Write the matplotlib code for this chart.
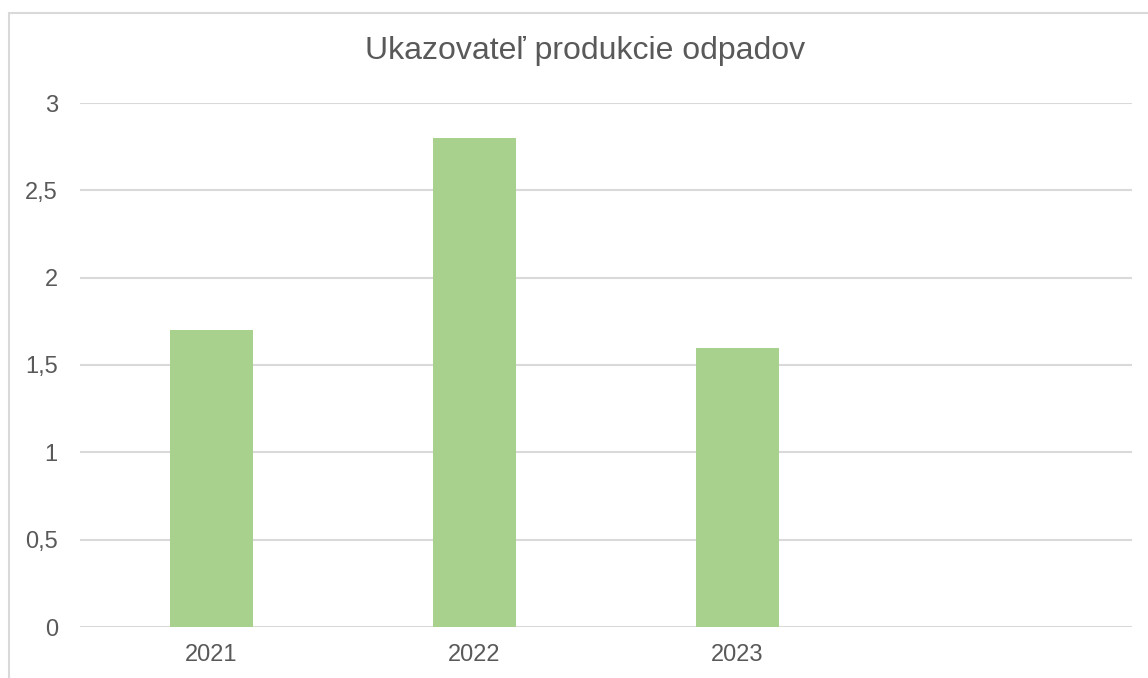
import matplotlib.pyplot as plt
from matplotlib.patches import Rectangle
import numpy as np

# data
categories = ['2021', '2022', '2023', '']
values = [1.7, 2.8, 1.6, np.nan]
y_ticks = [0, 0.5, 1, 1.5, 2, 2.5, 3]
y_labels = ['0', '0,5', '1', '1,5', '2', '2,5', '3']

plt.rcParams['font.family'] = ['Liberation Sans', 'DejaVu Sans']
text_color = '#595959'
grid_color = '#D9D9D9'

fig = plt.figure(figsize=(11.48, 6.78), dpi=100)
W, H = 1148, 678

# chart border (runs off the right and bottom edges)
fig.patches.append(Rectangle((9 / W, -0.05), 1.1, 1 - 13 / H + 0.05,
                             transform=fig.transFigure, fill=False,
                             edgecolor=grid_color, linewidth=1.5))

ax = fig.add_axes([80 / W, 51 / H, 1052 / W, 524 / H])
x = np.arange(len(categories))
ax.bar(x, values, width=0.315, color='#A9D18E', zorder=3)

ax.set_xlim(-0.5, len(categories) - 0.5)
ax.set_ylim(0, 3)
ax.set_xticks(x)
ax.set_xticklabels(categories)
ax.set_yticks(y_ticks)
ax.set_yticklabels(y_labels)
ax.grid(axis='y', color=grid_color, linewidth=1.5, zorder=0)
for s in ax.spines.values():
    s.set_visible(False)
ax.tick_params(length=0, labelsize=17, labelcolor=text_color)
ax.tick_params(axis='y', pad=16)
ax.tick_params(axis='x', pad=12)

fig.text(585 / W, 1 - 51 / H, 'Ukazovateľ produkcie odpadov',
         ha='center', va='center', fontsize=23, color=text_color)

fig.savefig('out.png', dpi=100)
